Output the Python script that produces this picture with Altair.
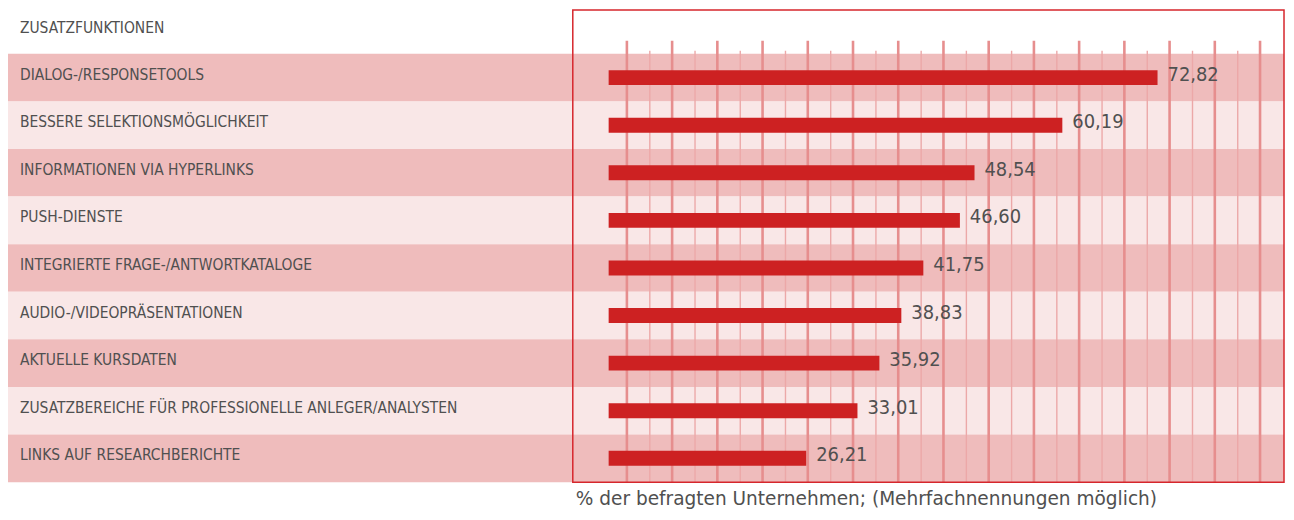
import altair as alt
import numpy as np
import pandas as pd

# ---- data ----
header = "ZUSATZFUNKTIONEN"
categories = [
    "DIALOG-/RESPONSETOOLS",
    "BESSERE SELEKTIONSMÖGLICHKEIT",
    "INFORMATIONEN VIA HYPERLINKS",
    "PUSH-DIENSTE",
    "INTEGRIERTE FRAGE-/ANTWORTKATALOGE",
    "AUDIO-/VIDEOPRÄSENTATIONEN",
    "AKTUELLE KURSDATEN",
    "ZUSATZBEREICHE FÜR PROFESSIONELLE ANLEGER/ANALYSTEN",
    "LINKS AUF RESEARCHBERICHTE",
]
values = [72.82, 60.19, 48.54, 46.60, 41.75, 38.83, 35.92, 33.01, 26.21]
footer = "% der befragten Unternehmen; (Mehrfachnennungen möglich)"

# ---- layout constants ----
W, H = 1281, 475
PX_PER_UNIT = 7.567
ZERO_PX = 603
x_domain = [-ZERO_PX / PX_PER_UNIT, (W - ZERO_PX) / PX_PER_UNIT]

DARK = "#EFBCBC"
LIGHT = "#F9E7E7"
BAR = "#CD2122"
TEXT = "#505050"
FONT_LABEL = "Liberation Sans Narrow, Arial Narrow, DejaVu Sans Condensed, sans-serif"

df = pd.DataFrame({
    "cat": categories,
    "value": values,
    "label": [f"{v:.2f}".replace(".", ",") for v in values],
    "shade": ["dark" if i % 2 == 0 else "light" for i in range(len(categories))],
})

grid_major = pd.DataFrame({"g": np.arange(15) * 6.0 + 2.42})
grid_minor = pd.DataFrame({"g": np.arange(14) * 6.0 + 5.46})

xs = alt.Scale(domain=x_domain, nice=False, zero=False)
ys = alt.Scale(domain=categories, range=[45, H], paddingInner=0, paddingOuter=0)
X = lambda f: alt.X(f, type="quantitative", scale=xs, axis=None)
Y = alt.Y("cat:N", scale=ys, axis=None, sort=categories)

base = alt.Chart(df)

bands = base.mark_rect().encode(
    y=Y,
    x=alt.value(0),
    x2=alt.value(W),
    color=alt.Color("shade:N", scale=alt.Scale(domain=["dark", "light"], range=[DARK, LIGHT]), legend=None),
)

major = alt.Chart(grid_major).mark_rule(color="#E68E8E", strokeWidth=2.6).encode(
    x=X("g"), y=alt.value(32), y2=alt.value(H)
)
minor = alt.Chart(grid_minor).mark_rule(color="#ECA8A8", strokeWidth=1.4).encode(
    x=X("g"), y=alt.value(42), y2=alt.value(H)
)

box = alt.Chart(pd.DataFrame({"a": [0]})).mark_rect(
    fill=None, stroke="#D6262C", strokeWidth=1.5
).encode(x=alt.value(567), x2=alt.value(W), y=alt.value(1), y2=alt.value(H))

bars = base.mark_bar(color=BAR, height=15).encode(
    y=Y, x=alt.X("value:Q", scale=xs, axis=None), x2=alt.datum(0)
)

vlabels = base.mark_text(
    align="left", baseline="middle", dx=10, dy=-3, font=FONT_LABEL, fontSize=20, color=TEXT
).encode(y=Y, x=X("value"), text="label:N")

clabels = base.mark_text(
    align="left", baseline="middle", dy=-3, font=FONT_LABEL, fontSize=15.5, color=TEXT
).encode(y=Y, x=alt.value(12), text="cat:N")

head = alt.Chart(pd.DataFrame({"t": [header]})).mark_text(
    align="left", baseline="middle", font=FONT_LABEL, fontSize=15.5, color=TEXT
).encode(y=alt.value(19), x=alt.value(12), text="t:N")

foot = alt.Chart(pd.DataFrame({"t": [footer]})).mark_text(
    align="left", baseline="alphabetic", font="DejaVu Sans", fontSize=18.6, color=TEXT
).encode(x=alt.value(570), y=alt.value(H + 23), text="t:N")

chart = alt.layer(bands, major, minor, box, bars, vlabels, clabels, head, foot).properties(
    width=W, height=H,
    autosize=alt.AutoSizeParams(type="none"),
    padding={"left": 0, "top": 0, "right": 2, "bottom": 29},
).configure_view(stroke=None)

chart.save("out.html", embed_options={"renderer": "svg", "actions": False})
